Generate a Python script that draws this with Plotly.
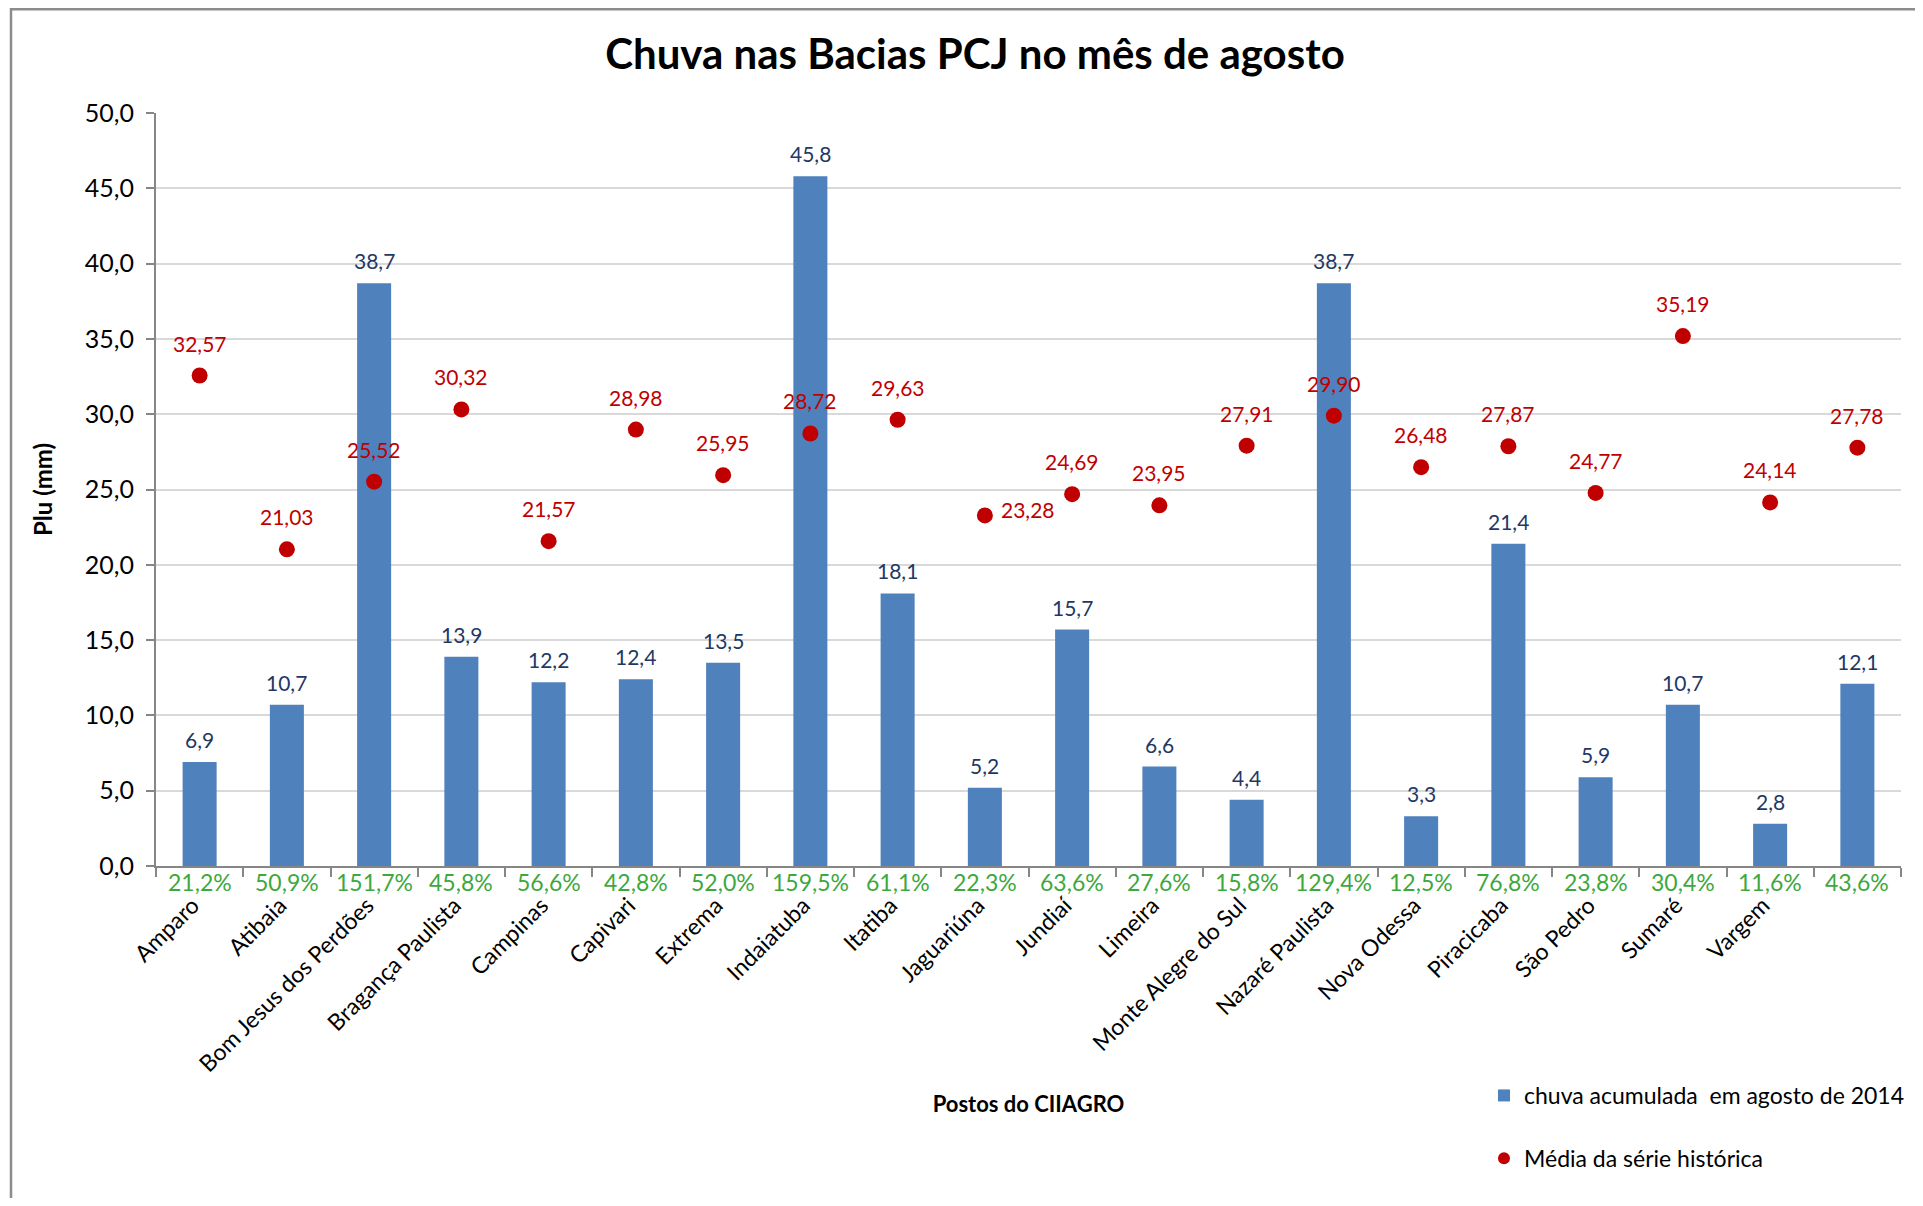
import plotly.graph_objects as go

# ---------------- data ----------------
postos = ["Amparo", "Atibaia", "Bom Jesus dos Perdões", "Bragança Paulista", "Campinas",
          "Capivari", "Extrema", "Indaiatuba", "Itatiba", "Jaguariúna", "Jundiaí",
          "Limeira", "Monte Alegre do Sul", "Nazaré Paulista", "Nova Odessa",
          "Piracicaba", "São Pedro", "Sumaré", "Vargem", " "]
chuva_2014 = [6.9, 10.7, 38.7, 13.9, 12.2, 12.4, 13.5, 45.8, 18.1, 5.2, 15.7,
              6.6, 4.4, 38.7, 3.3, 21.4, 5.9, 10.7, 2.8, 12.1]
media_hist = [32.57, 21.03, 25.52, 30.32, 21.57, 28.98, 25.95, 28.72, 29.63, 23.28,
              24.69, 23.95, 27.91, 29.90, 26.48, 27.87, 24.77, 35.19, 24.14, 27.78]
percentual = ["21,2%", "50,9%", "151,7%", "45,8%", "56,6%", "42,8%", "52,0%", "159,5%",
              "61,1%", "22,3%", "63,6%", "27,6%", "15,8%", "129,4%", "12,5%", "76,8%",
              "23,8%", "30,4%", "11,6%", "43,6%"]
y_ticks = [0, 5, 10, 15, 20, 25, 30, 35, 40, 45, 50]

# ---------------- style ----------------
W, H = 1907, 1190
ML, MR, MT, MB = 148, 14, 105, 332
FONT = "Lato"
BLUE = "#4F81BD"
RED = "#C00000"
GREEN = "#3DA83D"
NAVY = "#1F3864"
AXIS = "#868686"
GRID = "#D9D9D9"

fig = go.Figure()
fig.add_trace(go.Bar(
    x=postos, y=chuva_2014, name="chuva acumulada  em agosto de 2014",
    marker=dict(color=BLUE, line=dict(width=0)), legendgroup="a",
))
fig.add_trace(go.Scatter(
    x=postos, y=media_hist, mode="markers", name="Média da série histórica",
    marker=dict(color=RED, size=16, line=dict(width=0)), legendgroup="b",
))

ann = []
for p, v in zip(postos, chuva_2014):
    ann.append(dict(x=p, y=v, xref="x", yref="y", text=f"{v:.1f}".replace(".", ","),
                    showarrow=False, yanchor="bottom", yshift=8,
                    font=dict(size=21, color=NAVY, family=FONT)))
for p, v in zip(postos, media_hist):
    txt = f"{v:.2f}".replace(".", ",")
    if p == "Jaguariúna":
        ann.append(dict(x=p, y=v, xref="x", yref="y", text=txt, showarrow=False,
                        xanchor="left", yanchor="middle", xshift=14, yshift=6,
                        font=dict(size=21, color=RED, family=FONT)))
    else:
        ann.append(dict(x=p, y=v, xref="x", yref="y", text=txt, showarrow=False,
                        yanchor="bottom", yshift=18,
                        font=dict(size=21, color=RED, family=FONT)))
for p, t in zip(postos, percentual):
    ann.append(dict(x=p, y=0, xref="x", yref="y", text=t, showarrow=False,
                    yanchor="top", yshift=0,
                    font=dict(size=23, color=GREEN, family=FONT)))

pw = W - ML - MR
ph = H - MT - MB
def px2paper_x(px):
    return (px - ML) / pw
def px2paper_y(py):
    return (H - MB - py) / ph

shapes = [
    dict(type="line", xref="paper", yref="paper",
         x0=px2paper_x(3), x1=px2paper_x(3), y0=px2paper_y(0), y1=px2paper_y(H + 5),
         line=dict(color="#8C8C8C", width=2.5)),
    dict(type="line", xref="paper", yref="paper",
         x0=px2paper_x(3), x1=px2paper_x(W + 5), y0=px2paper_y(1.2), y1=px2paper_y(1.2),
         line=dict(color="#8C8C8C", width=2.5)),
]

fig.update_layout(
    width=W, height=H,
    margin=dict(l=ML, r=MR, t=MT, b=MB, autoexpand=False),
    paper_bgcolor="white", plot_bgcolor="white",
    font=dict(family=FONT, color="black", size=21),
    separators=",.",
    title=dict(text="<b>Chuva nas Bacias PCJ no mês de agosto</b>",
               x=967 / W, xref="container", xanchor="center",
               y=1 - 46 / H, yref="container", yanchor="middle",
               font=dict(size=42, family=FONT, color="black")),
    bargap=0.61,
    showlegend=True,
    legend=dict(x=px2paper_x(1476), y=px2paper_y(1066), xanchor="left", yanchor="top",
                xref="paper", yref="paper",
                font=dict(size=23, family=FONT, color="black"),
                traceorder="grouped", tracegroupgap=30, itemsizing="constant",
                bgcolor="rgba(0,0,0,0)"),
    annotations=ann,
    shapes=shapes,
)

fig.update_xaxes(
    type="category", range=[-0.5, len(postos) - 0.5], autorange=False,
    showline=True, linecolor=AXIS, linewidth=2,
    ticks="outside", tickson="boundaries", ticklen=9, tickcolor=AXIS, tickwidth=2,
    tickangle=-45, tickfont=dict(size=23, family=FONT, color="black"),
    ticklabelstandoff=15, ticklabelshift=-7,
    showgrid=False, zeroline=False,
    title=dict(text="<b>Postos do CIIAGRO</b>", font=dict(size=22, family=FONT), standoff=21),
)
fig.update_yaxes(
    range=[0, 50], autorange=False, tickvals=y_ticks, tickformat=".1f",
    showline=True, linecolor=AXIS, linewidth=2,
    ticks="outside", ticklen=8, tickcolor=AXIS, tickwidth=2,
    tickfont=dict(size=25, family=FONT, color="black"), ticklabelstandoff=7,
    showgrid=True, gridcolor=GRID, gridwidth=2, zeroline=False,
    title=dict(text="<b>Plu (mm)</b>", font=dict(size=24, family=FONT), standoff=25),
)

fig.write_html("out.html")
